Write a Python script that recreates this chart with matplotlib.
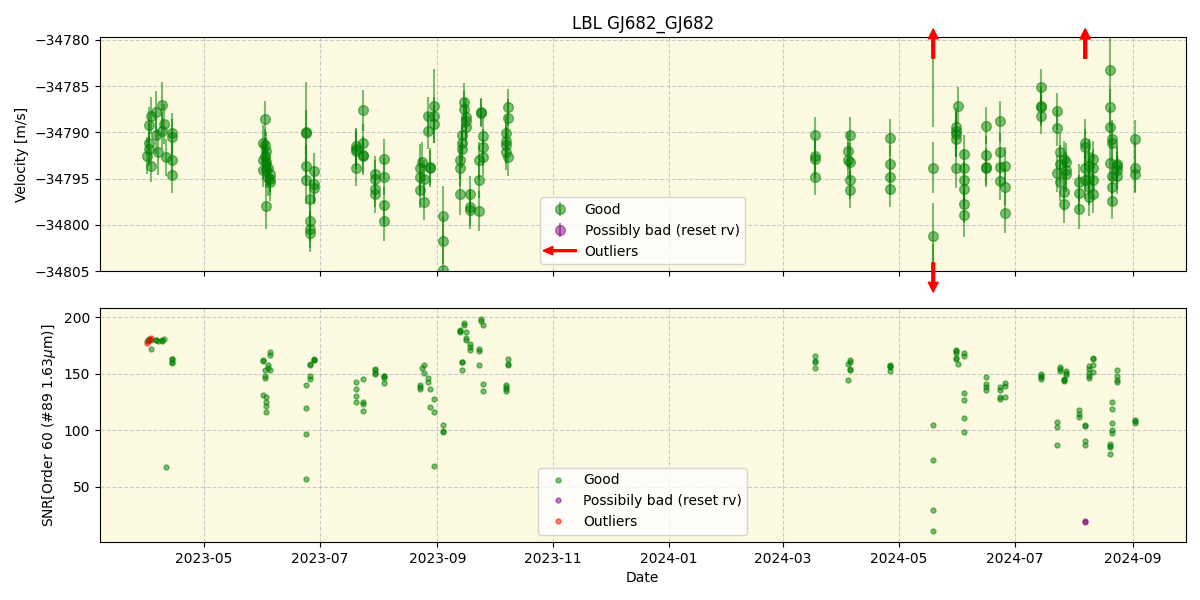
import matplotlib
matplotlib.use('Agg')
import matplotlib.pyplot as plt
import matplotlib.dates as mdates
import matplotlib.transforms as mtransforms
from matplotlib.legend_handler import HandlerPatch
from matplotlib.patches import FancyArrow, Patch
import pandas as pd

# ---------------- data ----------------
good_dates = [
    '2023-04-02', '2023-04-02', '2023-04-02', '2023-04-01', '2023-04-03', '2023-04-03', '2023-04-06', '2023-04-09', '2023-04-09', '2023-04-06', '2023-04-10', '2023-04-07', '2023-04-11', '2023-04-14', '2023-04-14', '2023-04-14', '2023-04-14',
    '2023-06-01', '2023-06-01', '2023-06-01', '2023-06-02', '2023-06-02', '2023-06-02', '2023-06-03', '2023-06-03', '2023-06-03', '2023-06-03', '2023-06-04', '2023-06-04', '2023-06-05', '2023-06-05', '2023-06-05',
    '2023-06-24', '2023-06-24', '2023-06-24', '2023-06-24', '2023-06-26', '2023-06-26', '2023-06-26', '2023-06-26', '2023-06-28', '2023-06-28', '2023-06-28',
    '2023-07-20', '2023-07-20', '2023-07-20', '2023-07-20', '2023-07-24', '2023-07-24', '2023-07-24', '2023-07-24',
    '2023-07-30', '2023-07-30', '2023-07-30', '2023-07-30', '2023-08-04', '2023-08-04', '2023-08-04', '2023-08-04',
    '2023-08-23', '2023-08-23', '2023-08-23', '2023-08-24', '2023-08-25', '2023-08-25', '2023-08-27', '2023-08-27', '2023-08-28', '2023-08-28', '2023-08-30', '2023-08-30', '2023-08-30',
    '2023-09-04', '2023-09-04', '2023-09-04',
    '2023-09-13', '2023-09-13', '2023-09-13', '2023-09-14', '2023-09-14', '2023-09-14', '2023-09-15', '2023-09-15', '2023-09-16', '2023-09-16', '2023-09-16', '2023-09-18', '2023-09-18', '2023-09-18',
    '2023-09-23', '2023-09-23', '2023-09-23', '2023-09-24', '2023-09-24', '2023-09-25', '2023-09-25', '2023-09-25',
    '2023-10-08', '2023-10-08', '2023-10-08', '2023-10-07', '2023-10-07', '2023-10-07', '2023-10-07',
    '2024-03-18', '2024-03-18', '2024-03-18', '2024-03-18',
    '2024-04-04', '2024-04-04', '2024-04-05', '2024-04-05', '2024-04-05', '2024-04-05',
    '2024-04-26', '2024-04-26', '2024-04-26', '2024-04-26',
    '2024-05-19', '2024-05-19', '2024-05-19', '2024-05-19',
    '2024-05-31', '2024-05-31', '2024-05-31', '2024-05-31', '2024-05-31', '2024-06-01', '2024-06-04', '2024-06-04', '2024-06-04', '2024-06-04', '2024-06-04', '2024-06-04',
    '2024-06-16', '2024-06-16', '2024-06-16', '2024-06-16',
    '2024-06-23', '2024-06-23', '2024-06-23', '2024-06-23', '2024-06-26', '2024-06-26', '2024-06-26',
    '2024-07-15', '2024-07-15', '2024-07-15', '2024-07-15',
    '2024-07-23', '2024-07-23', '2024-07-23', '2024-07-25', '2024-07-25', '2024-07-25', '2024-07-27', '2024-07-27', '2024-07-27', '2024-07-28', '2024-07-28', '2024-07-28',
    '2024-08-04', '2024-08-04', '2024-08-04', '2024-08-07', '2024-08-07', '2024-08-07', '2024-08-07', '2024-08-09', '2024-08-09', '2024-08-09', '2024-08-09', '2024-08-09', '2024-08-11', '2024-08-11', '2024-08-11', '2024-08-11',
    '2024-08-20', '2024-08-20', '2024-08-20', '2024-08-20', '2024-08-21', '2024-08-21', '2024-08-21', '2024-08-21', '2024-08-21', '2024-08-24', '2024-08-24', '2024-08-24', '2024-08-24',
    '2024-09-02', '2024-09-02', '2024-09-02',
]

good_rv = [
    -34789.2, -34791.2, -34791.8, -34792.5, -34793.6, -34788.2, -34787.8, -34787.0, -34789.8, -34790.3, -34789.1, -34792.1, -34792.7, -34790.1, -34790.5, -34793.0, -34794.6,
    -34791.2, -34793.0, -34794.1, -34788.5, -34791.4, -34792.5, -34792.0, -34798.0, -34793.2, -34794.0, -34793.8, -34794.9, -34794.5, -34795.0, -34795.4,
    -34790.0, -34790.1, -34793.6, -34795.2, -34797.2, -34799.6, -34800.5, -34800.9, -34794.2, -34795.6, -34796.0,
    -34791.8, -34792.0, -34791.5, -34793.8, -34787.6, -34791.1, -34792.4, -34792.6,
    -34794.5, -34795.0, -34796.1, -34796.7, -34792.9, -34794.8, -34797.9, -34799.6,
    -34793.8, -34794.8, -34796.2, -34793.2, -34797.5, -34795.0, -34788.2, -34789.8, -34793.9, -34793.7, -34787.1, -34788.2, -34789.1,
    -34799.0, -34801.7, -34804.9,
    -34793.0, -34793.8, -34796.7, -34791.8, -34790.3, -34791.1, -34786.7, -34787.5, -34788.3, -34789.4, -34788.8, -34796.7, -34798.1, -34798.4,
    -34798.5, -34795.1, -34793.0, -34787.9, -34787.8, -34790.4, -34791.6, -34792.7,
    -34787.3, -34788.4, -34792.7, -34790.1, -34790.9, -34791.4, -34792.1,
    -34790.3, -34792.6, -34792.9, -34794.8,
    -34792.0, -34793.0, -34790.3, -34793.2, -34795.2, -34796.2,
    -34790.6, -34793.4, -34794.8, -34796.1,
    -34793.8, -34801.2, -34775.0, -34810.0,
    -34789.4, -34789.8, -34790.2, -34790.7, -34793.8, -34787.1, -34792.3, -34793.9, -34795.2, -34796.1, -34797.8, -34798.9,
    -34789.3, -34792.4, -34793.7, -34793.9,
    -34788.8, -34792.1, -34793.7, -34795.3, -34793.6, -34795.9, -34798.7,
    -34785.1, -34787.1, -34787.3, -34788.2,
    -34787.7, -34789.5, -34794.4, -34792.1, -34793.4, -34795.4, -34792.9, -34796.5, -34797.8, -34793.2, -34794.1, -34794.5,
    -34795.4, -34796.6, -34798.3, -34791.1, -34791.6, -34793.8, -34795.2, -34792.7, -34793.6, -34794.9, -34795.9, -34797.0, -34792.9, -34793.8, -34795.2, -34796.7,
    -34783.2, -34787.3, -34789.4, -34793.3, -34790.7, -34791.1, -34794.7, -34795.9, -34797.4, -34793.4, -34793.6, -34794.7, -34794.1,
    -34790.7, -34793.8, -34794.5,
]

good_err = [
    2.0, 2.2, 1.8, 2.0, 1.8, 2.0, 2.3, 2.5, 2.0, 2.0, 2.2, 2.5, 2.0, 2.2, 2.0, 2.0, 2.0,
    2.0, 2.0, 1.8, 1.9, 1.8, 2.0, 2.0, 2.4, 2.0, 2.0, 2.0, 2.0, 2.0, 1.8, 2.0,
    5.5, 2.5, 2.2, 2.5, 2.0, 2.2, 2.0, 2.0, 2.0, 2.0, 1.8,
    2.2, 2.0, 2.0, 2.0, 2.2, 2.0, 2.0, 2.0,
    2.0, 2.0, 2.0, 2.0, 2.2, 2.0, 2.0, 2.2,
    2.5, 2.0, 2.0, 2.2, 2.0, 2.0, 2.0, 2.0, 2.0, 2.0, 4.0, 2.0, 2.0,
    3.2, 2.5, 2.5,
    2.0, 2.0, 2.2, 2.0, 2.0, 2.0, 2.0, 2.0, 2.0, 2.0, 2.0, 2.0, 2.0, 2.0,
    2.2, 2.0, 2.0, 1.5, 1.5, 2.0, 2.0, 2.0,
    2.0, 2.0, 2.0, 2.0, 2.0, 2.0, 2.0,
    2.0, 2.0, 2.0, 2.0,
    2.0, 2.0, 2.0, 2.0, 2.0, 2.0,
    2.0, 2.0, 2.0, 2.0,
    2.8, 3.6, 14.4, 7.9,
    2.0, 2.0, 2.5, 2.0, 2.2, 2.0, 2.0, 2.0, 2.0, 2.0, 2.0, 2.4,
    2.0, 2.0, 2.0, 2.0,
    2.2, 2.0, 2.0, 2.0, 2.0, 2.0, 2.2,
    2.0, 2.0, 2.0, 2.0,
    2.0, 2.0, 2.0, 2.0, 2.0, 2.0, 2.0, 2.0, 2.0, 2.0, 2.0, 2.0,
    2.0, 2.0, 2.2, 2.5, 2.0, 2.0, 2.0, 2.0, 2.0, 2.0, 2.0, 2.0, 2.0, 2.0, 2.0, 2.0,
    3.5, 2.0, 2.0, 2.0, 2.0, 2.0, 2.0, 2.0, 2.0, 2.0, 2.0, 2.0, 2.0,
    2.0, 2.8, 2.0,
]

good_snr = [
    180.0, 180.5, 179.5, 179.0, 172.3, 180.0, 180.2, 180.0, 179.4, 179.8, 180.6, 179.2, 67.0, 163.4, 159.6, 163.0, 160.0,
    162.0, 161.0, 131.6, 153.7, 147.8, 146.0, 129.0, 116.5, 125.0, 121.6, 157.5, 155.0, 169.3, 166.4, 153.0,
    140.4, 120.0, 97.0, 56.4, 159.0, 157.3, 147.8, 145.4, 163.0, 162.0, 162.5,
    143.1, 136.9, 130.7, 125.4, 145.7, 125.0, 123.6, 117.4,
    154.6, 153.0, 149.6, 151.0, 147.8, 146.6, 142.2, 148.0,
    139.8, 136.9, 138.0, 155.1, 157.5, 150.7, 146.6, 143.1, 136.9, 120.6, 127.2, 116.2, 67.9,
    105.0, 98.8, 99.5,
    188.5, 187.0, 188.0, 160.4, 153.7, 160.0, 195.3, 193.0, 186.5, 181.8, 179.6, 176.7, 171.4, 174.0,
    172.3, 170.2, 158.1, 198.8, 196.8, 193.5, 141.3, 135.1,
    163.4, 158.2, 157.5, 140.4, 136.7, 135.0, 138.0,
    165.5, 161.0, 160.4, 155.5,
    159.0, 144.0, 162.0, 160.4, 154.6, 153.7,
    157.5, 156.0, 152.0, 156.5,
    105.0, 74.0, 29.0, 10.6,
    171.4, 168.6, 164.3, 163.4, 170.0, 159.0, 168.4, 165.5, 132.5, 126.3, 110.4, 98.8,
    147.5, 141.3, 138.5, 136.0,
    137.8, 136.0, 129.5, 127.2, 142.2, 139.0, 129.8,
    149.6, 146.7, 144.9, 148.0,
    107.4, 102.4, 87.3, 156.0, 154.6, 152.0, 143.6, 145.0, 144.0, 152.2, 150.2, 149.0,
    117.7, 114.2, 111.8, 105.0, 103.5, 90.3, 87.3, 147.8, 146.6, 150.7, 154.6, 156.6, 163.4, 164.0, 151.6, 158.0,
    87.6, 85.2, 78.5, 86.0, 106.0, 100.0, 97.6, 125.0, 118.6, 153.7, 147.8, 144.0, 142.7,
    109.4, 106.5, 108.0,
]

bad_dates = ['2024-08-07', '2024-08-07']
bad_rv = [-34770.0, -34770.5]
bad_err = [1.5, 1.5]
bad_snr = [19.8, 18.3]

outlier_dates = ['2023-04-01', '2023-04-02', '2023-04-03']
outlier_snr = [177.5, 179.5, 181.5]

rv_limits = (-34805.0, -34779.7)
date_limits = ('2023-03-07 08:00', '2024-09-28 21:00')

# ---------------- plot ----------------
gd = pd.to_datetime(good_dates)
bd = pd.to_datetime(bad_dates)
od = pd.to_datetime(outlier_dates)

fig, (ax1, ax2) = plt.subplots(2, 1, figsize=(12, 6), dpi=100, sharex=True)
fig.subplots_adjust(left=0.0833, right=0.988, top=0.938, bottom=0.097, hspace=0.158)

bg = '#fcfae1'
for ax in (ax1, ax2):
    ax.set_facecolor(bg)
    ax.grid(True, linestyle='--', color='#b8b8c0', alpha=0.7, linewidth=0.8)
    ax.set_axisbelow(True)

ax1.errorbar(gd, good_rv, yerr=good_err, fmt='o', color='green', alpha=0.5,
             ms=7, elinewidth=1.5, label='Good')
ax1.errorbar(bd, bad_rv, yerr=bad_err, fmt='o', color='purple', alpha=0.5,
             ms=7, elinewidth=1.5, label='Possibly bad (reset rv)')
ax1.set_ylim(*rv_limits)
ax1.yaxis.get_major_formatter().set_useOffset(False)
ax1.set_xlim(pd.to_datetime(date_limits[0]), pd.to_datetime(date_limits[1]))

trans = mtransforms.blended_transform_factory(ax1.transData, ax1.transAxes)
arrow_kw = dict(facecolor='red', edgecolor='red', width=2, headwidth=7,
                headlength=7, shrink=0)
all_dates = list(gd) + list(bd)
all_rv = list(good_rv) + list(bad_rv)
for d, v in zip(all_dates, all_rv):
    xd = mdates.date2num(d)
    if v > rv_limits[1]:
        ax1.annotate('', xy=(xd, 1.035), xytext=(xd, 0.91), xycoords=trans,
                     textcoords=trans, arrowprops=arrow_kw, annotation_clip=False)
    elif v < rv_limits[0]:
        ax1.annotate('', xy=(xd, -0.09), xytext=(xd, 0.035), xycoords=trans,
                     textcoords=trans, arrowprops=arrow_kw, annotation_clip=False)


class ArrowHandler(HandlerPatch):
    def create_artists(self, legend, orig_handle, xdescent, ydescent, width,
                       height, fontsize, trans):
        arr = FancyArrow(width - xdescent + 2, 0.5 * height - ydescent, -(width + 4), 0,
                         width=1.4, head_width=6, head_length=7,
                         length_includes_head=True, color='red')
        arr.set_transform(trans)
        return [arr]


outlier_proxy = Patch(color='red', label='Outliers')
h, l = ax1.get_legend_handles_labels()
h.append(outlier_proxy)
l.append('Outliers')
ax1.legend(h, l, loc='lower center', handler_map={outlier_proxy: ArrowHandler()})
ax1.set_ylabel('Velocity [m/s]')
ax1.set_title('LBL GJ682_GJ682')

ax2.plot(gd, good_snr, 'o', ls='none', color='green', alpha=0.5, ms=3.6, label='Good')
ax2.plot(bd, bad_snr, 'o', ls='none', color='purple', alpha=0.5, ms=3.6,
         label='Possibily bad (reset rv)')
ax2.plot(od, outlier_snr, 'o', ls='none', color='red', alpha=0.5, ms=3.6, label='Outliers')
ax2.legend(loc='lower center')
ax2.set_ylabel('SNR[Order 60 (#89 1.63$\\mu$m)]')
ax2.set_xlabel('Date')

ax2.xaxis.set_major_locator(mdates.MonthLocator(bymonth=[1, 3, 5, 7, 9, 11]))
ax2.xaxis.set_major_formatter(mdates.DateFormatter('%Y-%m'))

fig.savefig('out.png', dpi=100)
